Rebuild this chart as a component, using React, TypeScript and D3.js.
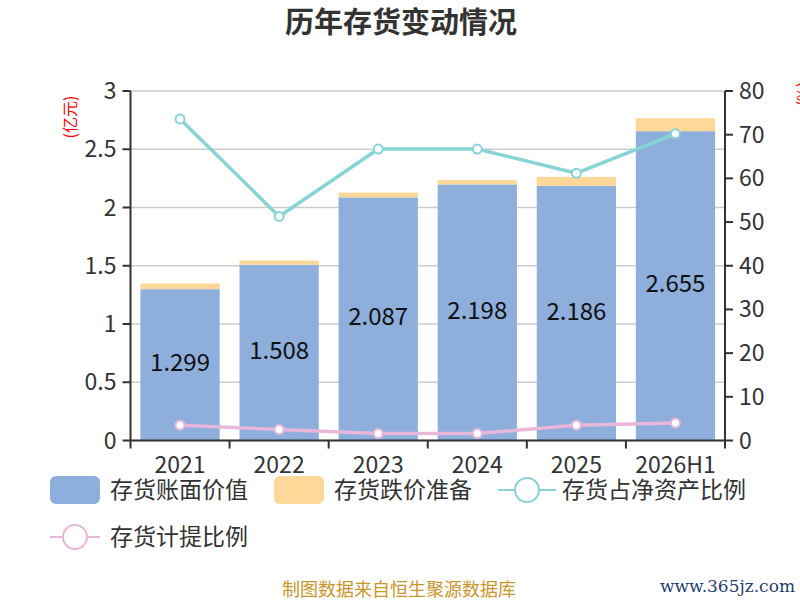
import React from "react";
import * as d3 from "d3";

const categories = ["2021", "2022", "2023", "2024", "2025", "2026H1"];
const bookValue = [1.299, 1.508, 2.087, 2.198, 2.186, 2.655];
const impairment = [0.049, 0.037, 0.041, 0.037, 0.077, 0.112];
const netAssetRatio = [73.6, 51.3, 66.7, 66.7, 61.2, 70.2];
const provisionRatio = [3.5, 2.5, 1.6, 1.6, 3.5, 4.0];
const leftTicks = [0, 0.5, 1, 1.5, 2, 2.5, 3];
const rightTicks = [0, 10, 20, 30, 40, 50, 60, 70, 80];

const FONT = "'Noto Sans CJK SC', 'Noto Sans', sans-serif";
const BLUE = "#8eaedb";
const ORANGE = "#fed898";
const CYAN = "#86d4d6";
const PINK = "#e8b7d9";
const AXIS = "#333";

export default function App() {
  const W = 800, H = 600;
  const left = 130.5, right = 725, top = 91, bottom = 440.5;
  const xb = d3.scaleBand().domain(categories).range([left, right]);
  const yL = d3.scaleLinear().domain([0, 3]).range([bottom, top]);
  const yR = d3.scaleLinear().domain([0, 80]).range([bottom, top]);
  const cx = (c: string) => (xb(c) as number) + xb.bandwidth() / 2;
  const line1 = d3.line<number>().x((_, i) => cx(categories[i])).y((d) => yR(d));
  const bw = xb.bandwidth() * 0.8;

  return (
    <svg width={W} height={H} style={{ display: "block", position: "absolute", left: 0, top: 0, fontFamily: FONT }}>
      <rect width={W} height={H} fill="#fff" />
      <text x={401} y={33} textAnchor="middle" fontSize={29} fontWeight="bold" fill="#333">历年存货变动情况</text>

      {leftTicks.map((t) => (
        <line key={"g" + t} x1={left} x2={right} y1={yL(t)} y2={yL(t)} stroke="#ccc" strokeWidth={1.5} />
      ))}

      {categories.map((c, i) => {
        const bx = cx(c) - bw / 2;
        return (
          <g key={"b" + c}>
            <rect x={bx} y={yL(bookValue[i])} width={bw} height={bottom - yL(bookValue[i])} fill={BLUE} />
            <rect x={bx} y={yL(bookValue[i] + impairment[i])} width={bw} height={yL(bookValue[i]) - yL(bookValue[i] + impairment[i])} fill={ORANGE} />
            <text x={cx(c)} y={(yL(bookValue[i]) + bottom) / 2 - 2} dy="0.35em" textAnchor="middle" fontSize={24} fill="#111">{bookValue[i].toFixed(3)}</text>
          </g>
        );
      })}

      <path d={line1(netAssetRatio) || ""} fill="none" stroke={CYAN} strokeWidth={3.5} />
      {netAssetRatio.map((v, i) => (
        <circle key={"c" + i} cx={cx(categories[i])} cy={yR(v)} r={4.5} fill="#fff" stroke={CYAN} strokeWidth={2} />
      ))}
      <path d={line1(provisionRatio) || ""} fill="none" stroke={PINK} strokeWidth={3.5} />
      {provisionRatio.map((v, i) => (
        <circle key={"p" + i} cx={cx(categories[i])} cy={yR(v)} r={4.5} fill="#fff" stroke={PINK} strokeWidth={2} />
      ))}

      {/* left axis */}
      <line x1={left} x2={left} y1={top} y2={bottom} stroke={AXIS} strokeWidth={2} />
      {leftTicks.map((t) => (
        <g key={"l" + t}>
          <line x1={left - 8} x2={left} y1={yL(t)} y2={yL(t)} stroke={AXIS} strokeWidth={2} />
          <text x={left - 14} y={yL(t)} dy="0.35em" textAnchor="end" fontSize={23} fill="#333">{t}</text>
        </g>
      ))}
      <text transform={`translate(70,${117}) rotate(-90)`} textAnchor="middle" dy="0.35em" fontSize={16} fill="#f00">(亿元)</text>

      {/* right axis */}
      <line x1={right} x2={right} y1={top} y2={bottom} stroke={AXIS} strokeWidth={2} />
      {rightTicks.map((t) => (
        <g key={"r" + t}>
          <line x1={right} x2={right + 8} y1={yR(t)} y2={yR(t)} stroke={AXIS} strokeWidth={2} />
          <text x={right + 14} y={yR(t)} dy="0.35em" textAnchor="start" fontSize={23} fill="#333">{t}</text>
        </g>
      ))}
      <text transform={`translate(803,${94}) rotate(-90)`} textAnchor="middle" dy="0.35em" fontSize={15} fill="#f00">(%)</text>

      {/* x axis */}
      <line x1={left} x2={right} y1={bottom} y2={bottom} stroke={AXIS} strokeWidth={2} />
      {categories.map((c) => (
        <line key={"xt" + c} x1={xb(c) as number} x2={xb(c) as number} y1={bottom} y2={bottom + 8} stroke={AXIS} strokeWidth={2} />
      ))}
      <line x1={right} x2={right} y1={bottom} y2={bottom + 8} stroke={AXIS} strokeWidth={2} />
      {categories.map((c) => (
        <text key={"xl" + c} x={cx(c)} y={465} dy="0.35em" textAnchor="middle" fontSize={23} fill="#333">{c}</text>
      ))}

      {/* legend */}
      <rect x={50} y={476} width={50} height={28} rx={6} fill={BLUE} />
      <text x={110} y={490} dy="0.35em" fontSize={23} fill="#333">存货账面价值</text>
      <rect x={274} y={476} width={50} height={28} rx={6} fill={ORANGE} />
      <text x={334} y={490} dy="0.35em" fontSize={23} fill="#333">存货跌价准备</text>
      <line x1={498} x2={556} y1={490} y2={490} stroke={CYAN} strokeWidth={2} />
      <circle cx={527} cy={490} r={12} fill="#fff" stroke={CYAN} strokeWidth={2} />
      <text x={562} y={490} dy="0.35em" fontSize={23} fill="#333">存货占净资产比例</text>
      <line x1={50} x2={100} y1={537} y2={537} stroke={PINK} strokeWidth={2} />
      <circle cx={75} cy={537} r={12} fill="#fff" stroke={PINK} strokeWidth={2} />
      <text x={110} y={537} dy="0.35em" fontSize={23} fill="#333">存货计提比例</text>

      <text x={399} y={590} dy="0.35em" textAnchor="middle" fontSize={18} fill="#c8962a">制图数据来自恒生聚源数据库</text>
      <text x={795} y={586} dy="0.35em" textAnchor="end" fontSize={17} fontFamily="'DejaVu Serif', serif" fill="#1f3d6e">www.365jz.com</text>
    </svg>
  );
}
